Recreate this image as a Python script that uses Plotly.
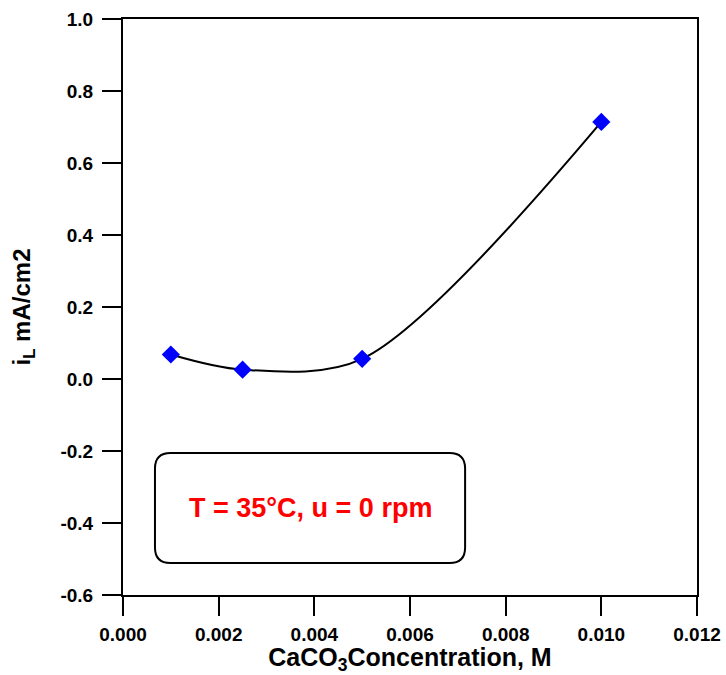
import plotly.graph_objects as go

# CaCO3 concentration (M) and limiting current density (mA/cm2)
concentration = [0.001, 0.0025, 0.005, 0.010]
current_density = [0.068, 0.026, 0.056, 0.714]

x_ticks = [0.000, 0.002, 0.004, 0.006, 0.008, 0.010, 0.012]
x_tick_text = ["0.000", "0.002", "0.004", "0.006", "0.008", "0.010", "0.012"]
y_ticks = [-0.6, -0.4, -0.2, 0.0, 0.2, 0.4, 0.6, 0.8, 1.0]
y_tick_text = ["-0.6", "-0.4", "-0.2", "0.0", "0.2", "0.4", "0.6", "0.8", "1.0"]

FONT = "Liberation Sans, Arial, sans-serif"

fig = go.Figure()

# smooth trend line through the measurements
fig.add_trace(go.Scatter(
    x=concentration, y=current_density, mode="lines",
    line=dict(color="black", width=2, shape="spline", smoothing=0.9),
    hoverinfo="skip", showlegend=False,
))

# measured points
fig.add_trace(go.Scatter(
    x=concentration, y=current_density, mode="markers",
    marker=dict(symbol="diamond", size=14, color="#0000FF",
                line=dict(width=0)),
    showlegend=False,
))

axis_common = dict(
    showline=True, linecolor="black", linewidth=2, mirror=True,
    ticks="outside", ticklen=19, tickwidth=2, tickcolor="black",
    showgrid=False, zeroline=False, automargin=False,
    tickfont=dict(family=FONT, size=19, color="black", weight="bold"),
)

fig.update_xaxes(
    range=[0, 0.012], tickvals=x_ticks, ticktext=x_tick_text,
    ticklabelstandoff=2,
    title=dict(text="<b>CaCO<sub>3</sub>Concentration, M</b>",
               font=dict(family=FONT, size=25, color="black"), standoff=6),
    **axis_common,
)
fig.update_yaxes(
    range=[-0.6, 1.0], tickvals=y_ticks, ticktext=y_tick_text,
    ticklabelstandoff=5,
    title=dict(text="<b>i<sub>L</sub> mA/cm2</b>",
               font=dict(family=FONT, size=24, color="black"), standoff=23),
    **axis_common,
)

# rounded annotation box
x0, x1 = 0.0557, 0.596
y0, y1 = 0.0556, 0.2465
rx, ry = 0.027, 0.027
box_path = (
    f"M {x0 + rx},{y0} L {x1 - rx},{y0} Q {x1},{y0} {x1},{y0 + ry} "
    f"L {x1},{y1 - ry} Q {x1},{y1} {x1 - rx},{y1} "
    f"L {x0 + rx},{y1} Q {x0},{y1} {x0},{y1 - ry} "
    f"L {x0},{y0 + ry} Q {x0},{y0} {x0 + rx},{y0} Z"
)
fig.add_shape(type="path", path=box_path, xref="paper", yref="paper",
              line=dict(color="black", width=2), fillcolor="white", layer="below")

fig.add_annotation(
    x=(x0 + x1) / 2, y=(y0 + y1) / 2, xref="paper", yref="paper",
    xanchor="center", yanchor="middle",
    text="<b>T = 35°C, u = 0 rpm</b>", showarrow=False,
    font=dict(family=FONT, size=27, color="#FF0000"),
)

fig.update_layout(
    width=726, height=675,
    margin=dict(l=123, r=29, t=19, b=80),
    plot_bgcolor="white", paper_bgcolor="white",
    font=dict(family=FONT, color="black"),
)

fig.write_html("out.html")
